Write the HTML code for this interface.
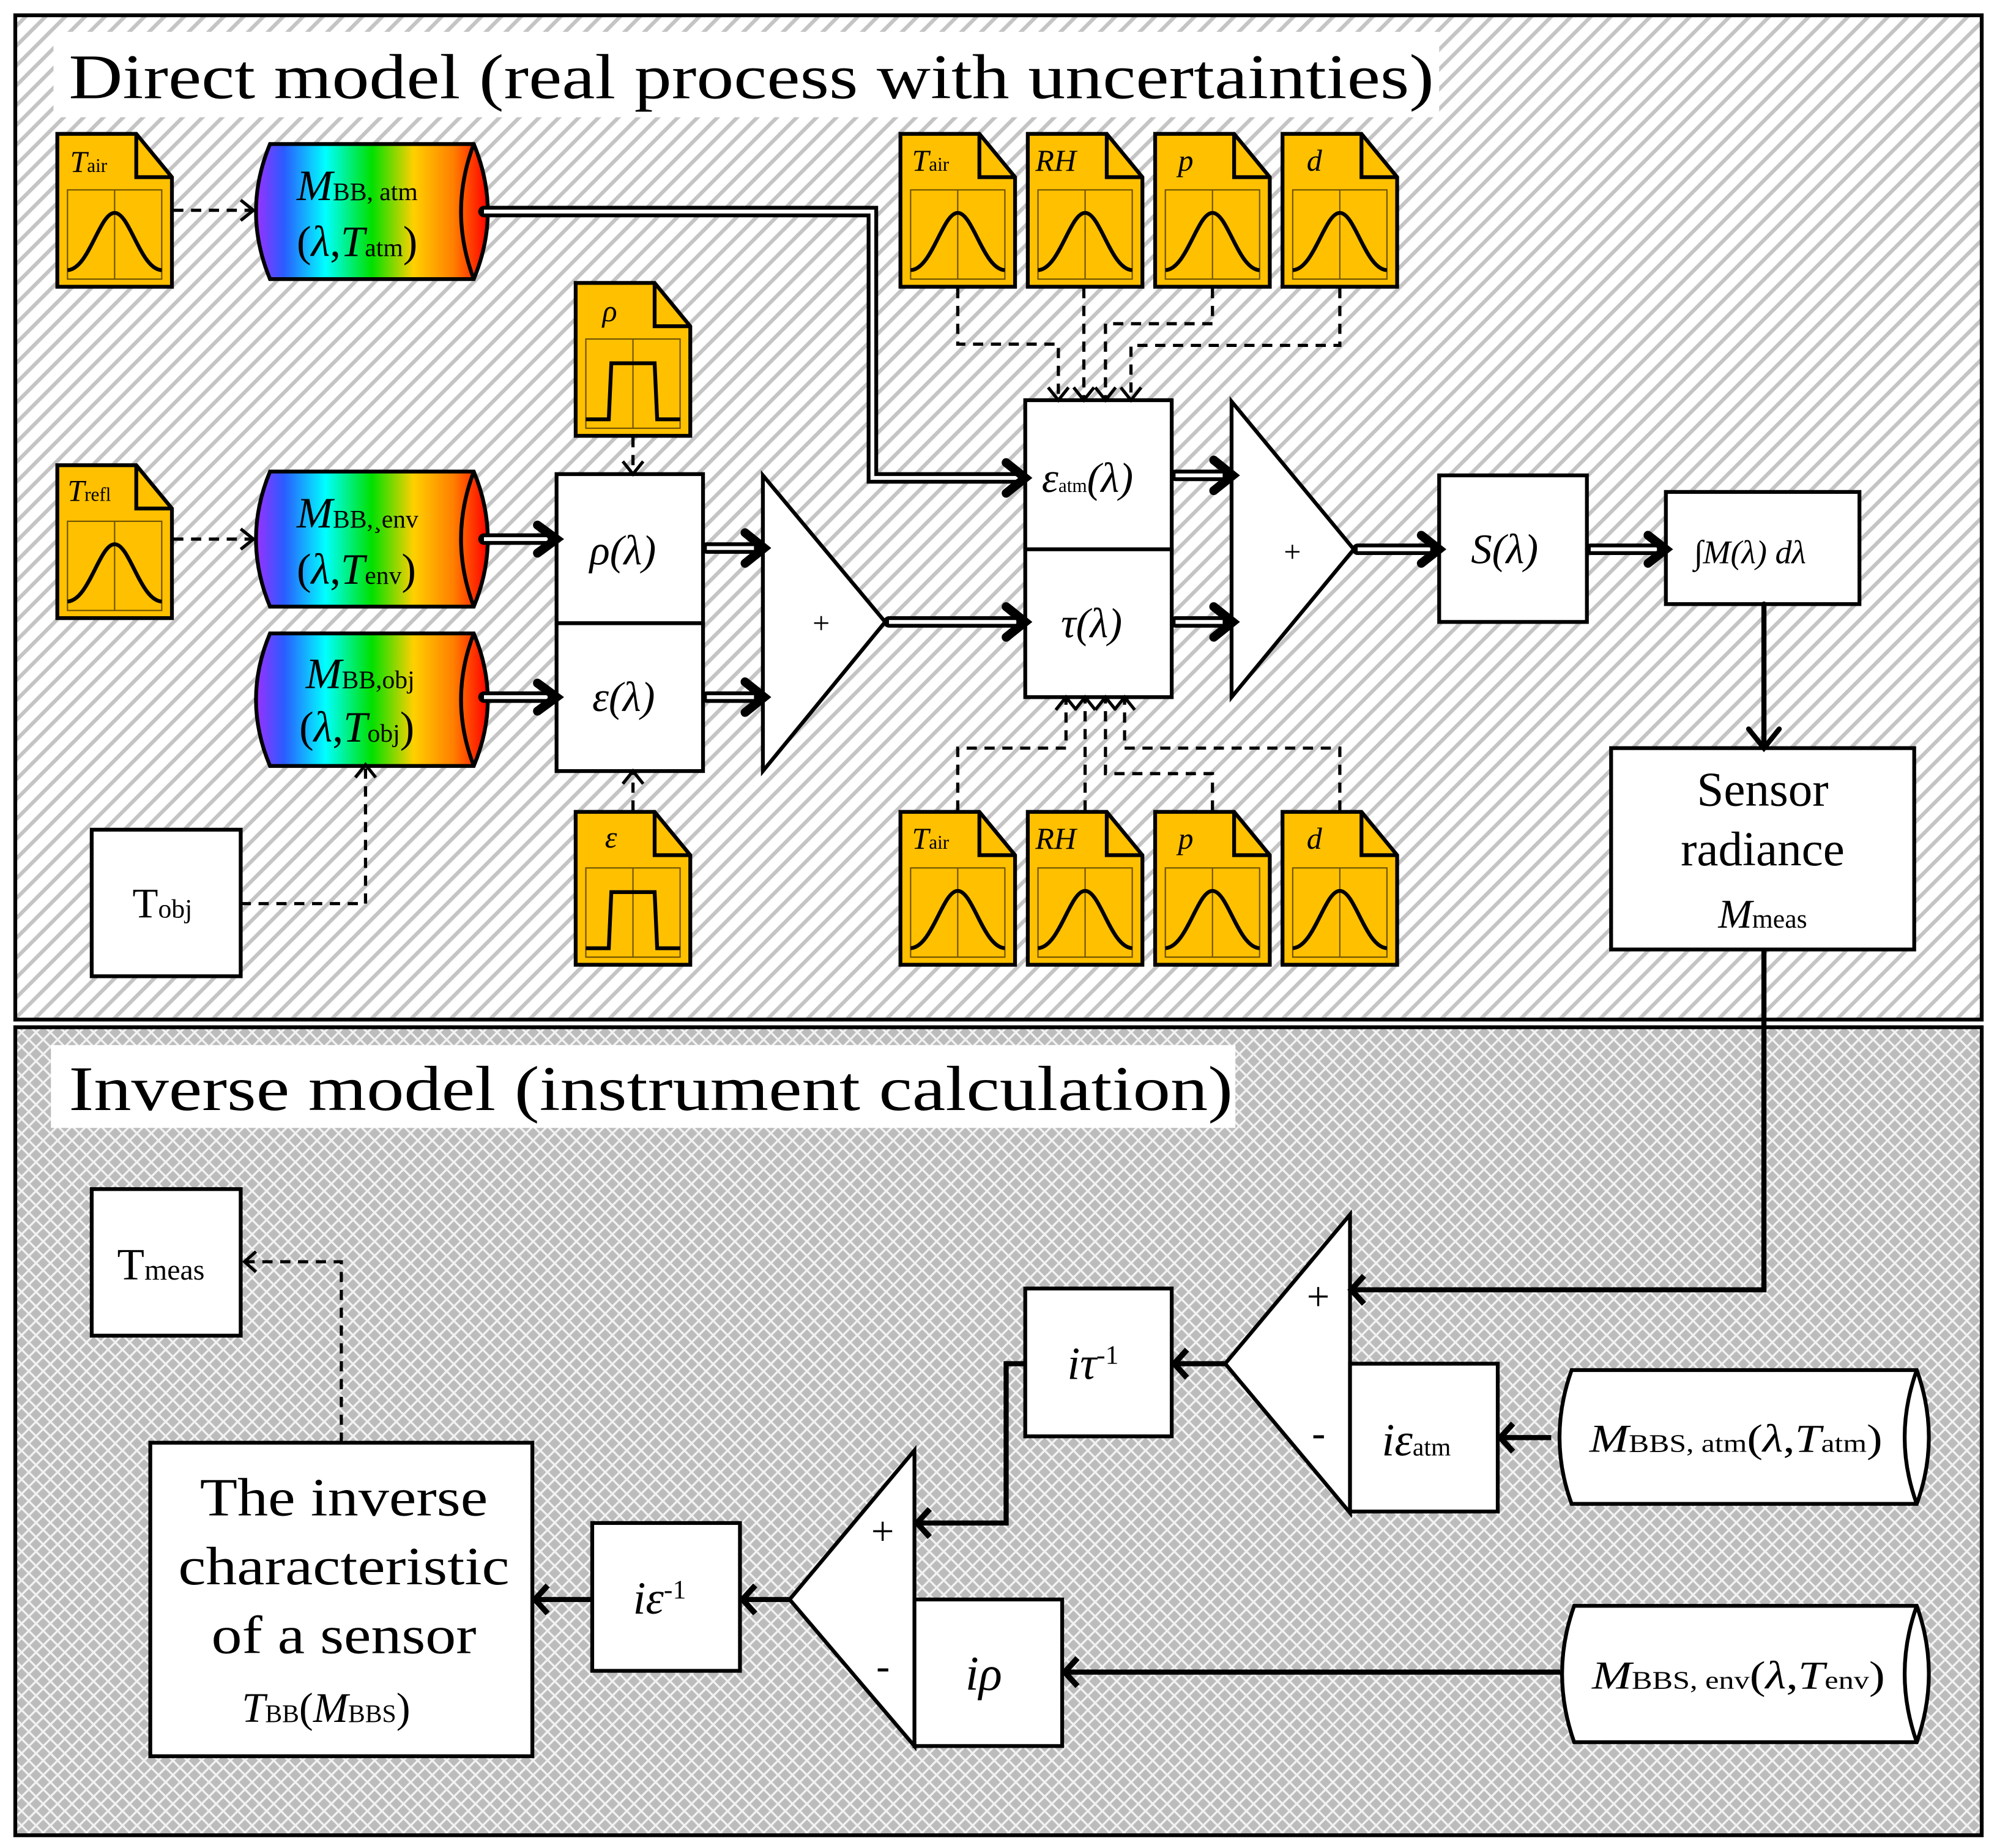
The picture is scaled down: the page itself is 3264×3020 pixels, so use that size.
<!DOCTYPE html>
<html><head><meta charset="utf-8"><style>
html,body{margin:0;padding:0;background:#fff}
svg{display:block}
text{font-family:"Liberation Serif",serif;fill:#000}
.i{font-style:italic}
</style></head><body>
<svg width="3264" height="3020" viewBox="0 0 1568 1450" preserveAspectRatio="none" xmlns="http://www.w3.org/2000/svg">
<defs>
<pattern id="stripe" width="11" height="11" patternUnits="userSpaceOnUse" patternTransform="rotate(45)">
<rect width="11" height="11" fill="#fff"/><rect x="0" y="0" width="3" height="11" fill="#c4c4c4"/>
</pattern>
<pattern id="diam" width="8" height="8" patternUnits="userSpaceOnUse" patternTransform="rotate(45)">
<rect width="8" height="8" fill="#bcbcbc"/><rect x="0" y="0" width="1.6" height="8" fill="#f2f2f2"/><rect x="0" y="0" width="8" height="1.6" fill="#f2f2f2"/>
</pattern>
<linearGradient id="rb" x1="0" x2="1" y1="0" y2="0">
<stop offset="0" stop-color="#9b30ff"/><stop offset="0.12" stop-color="#2a5bff"/><stop offset="0.3" stop-color="#00ffff"/><stop offset="0.5" stop-color="#00e000"/><stop offset="0.68" stop-color="#ffd000"/><stop offset="0.85" stop-color="#ff8000"/><stop offset="1" stop-color="#ff0000"/>
</linearGradient>
<g id="docbase">
<path d="M0,0 H62 L90,34 V120 H0 Z" fill="#ffc000" stroke="#000" stroke-width="3"/>
<path d="M62,0 V34 H90" fill="none" stroke="#000" stroke-width="3"/>
<rect x="8" y="44" width="74" height="70" fill="none" stroke="#6b5000" stroke-width="1"/>
<line x1="45" y1="44" x2="45" y2="114" stroke="#6b5000" stroke-width="1"/>
</g>
<g id="docg"><use href="#docbase"/><path d="M8,107 C25,106 33,62 45,62 C57,62 65,106 82,107" fill="none" stroke="#000" stroke-width="3"/></g>
<g id="docp"><use href="#docbase"/><path d="M8,107 H26 L28,63 H62 L64,107 H82" fill="none" stroke="#000" stroke-width="3"/></g>
</defs>

<rect x="12" y="12" width="1544" height="788" fill="url(#stripe)" stroke="#000" stroke-width="3"/>
<rect x="12" y="806" width="1544" height="634" fill="url(#diam)" stroke="#000" stroke-width="3"/>
<rect x="42" y="25" width="1088" height="67" fill="#fff"/>
<text x="54" y="77" font-size="50" textLength="1072" lengthAdjust="spacingAndGlyphs">Direct model (real process with uncertainties)</text>
<rect x="40" y="820" width="930" height="65" fill="#fff"/>
<text x="54" y="871" font-size="50" textLength="914" lengthAdjust="spacingAndGlyphs">Inverse model (instrument calculation)</text>

<use href="#docg" x="45" y="105"/><text x="55" y="135" font-size="24" class="i">T<tspan font-size="15" font-style="normal">air</tspan></text>
<use href="#docg" x="45" y="365"/><text x="53" y="393" font-size="24" class="i">T<tspan font-size="15" font-style="normal">refl</tspan></text>
<use href="#docp" x="452" y="222"/><text x="473" y="252" font-size="24" class="i">ρ</text>
<use href="#docp" x="452" y="637"/><text x="475" y="665" font-size="24" class="i">ε</text>
<g>
<use href="#docg" x="707" y="105"/><text x="716" y="134" font-size="24" class="i">T<tspan font-size="15" font-style="normal">air</tspan></text>
<use href="#docg" x="807" y="105"/><text x="813" y="134" font-size="24" class="i">RH</text>
<use href="#docg" x="907" y="105"/><text x="925" y="134" font-size="24" class="i">p</text>
<use href="#docg" x="1007" y="105"/><text x="1026" y="134" font-size="24" class="i">d</text>
<use href="#docg" x="707" y="637"/><text x="716" y="666" font-size="24" class="i">T<tspan font-size="15" font-style="normal">air</tspan></text>
<use href="#docg" x="807" y="637"/><text x="813" y="666" font-size="24" class="i">RH</text>
<use href="#docg" x="907" y="637"/><text x="925" y="666" font-size="24" class="i">p</text>
<use href="#docg" x="1007" y="637"/><text x="1026" y="666" font-size="24" class="i">d</text>
</g>

<g stroke="#000" stroke-width="3">
<path d="M212,113 H372 Q394,166 372,219 H212 Q190,166 212,113 Z" fill="url(#rb)"/>
<path d="M372,113 Q352,166 372,219" fill="none"/>
<path d="M212,370 H372 Q394,423 372,476 H212 Q190,423 212,370 Z" fill="url(#rb)"/>
<path d="M372,370 Q352,423 372,476" fill="none"/>
<path d="M212,497 H372 Q394,549 372,601 H212 Q190,549 212,497 Z" fill="url(#rb)"/>
<path d="M372,497 Q352,549 372,601" fill="none"/>
</g>
<text x="233" y="157" font-size="34" class="i">M<tspan font-size="20" font-style="normal">BB, atm</tspan></text>
<text x="233" y="201" font-size="34">(<tspan class="i">λ</tspan>,<tspan class="i">T</tspan><tspan font-size="20">atm</tspan>)</text>
<text x="233" y="414" font-size="34" class="i">M<tspan font-size="20" font-style="normal">BB,¸env</tspan></text>
<text x="233" y="458" font-size="34">(<tspan class="i">λ</tspan>,<tspan class="i">T</tspan><tspan font-size="20">env</tspan>)</text>
<text x="240" y="540" font-size="34" class="i">M<tspan font-size="20" font-style="normal">BB,obj</tspan></text>
<text x="235" y="582" font-size="34">(<tspan class="i">λ</tspan>,<tspan class="i">T</tspan><tspan font-size="20">obj</tspan>)</text>

<g fill="#fff" stroke="#000" stroke-width="3">
<rect x="72" y="651" width="117" height="115"/>
<rect x="437" y="372" width="115" height="117"/><rect x="437" y="489" width="115" height="116"/>
<rect x="805" y="314" width="115" height="117"/><rect x="805" y="431" width="115" height="116"/>
<rect x="1130" y="373" width="116" height="115"/>
<rect x="1308" y="386" width="152" height="88"/>
<rect x="1265" y="587" width="238" height="158"/>
<path d="M599,373 L695,488 L599,605 Z"/>
<path d="M967,315 L1063,431 L967,547 Z"/>
</g>
<text x="104" y="720" font-size="33">T<tspan font-size="21">obj</tspan></text>
<text x="463" y="443" font-size="33" class="i">ρ(λ)</text>
<text x="465" y="558" font-size="33" class="i">ε(λ)</text>
<text x="818" y="386" font-size="33" class="i">ε<tspan font-size="15" font-style="normal">atm</tspan>(λ)</text>
<text x="833" y="500" font-size="33" class="i">τ(λ)</text>
<text x="638" y="497" font-size="24">+</text>
<text x="1008" y="441" font-size="24">+</text>
<text x="1155" y="442" font-size="33" class="i">S(λ)</text>
<text x="1330" y="442" font-size="26" class="i">∫M(λ) dλ</text>
<text x="1384" y="632" font-size="38" text-anchor="middle">Sensor</text>
<text x="1384" y="679" font-size="38" text-anchor="middle">radiance</text>
<text x="1384" y="728" font-size="32" text-anchor="middle"><tspan class="i">M</tspan><tspan font-size="21">meas</tspan></text>

<g fill="none" stroke-linecap="round" stroke-linejoin="miter">
<g stroke="#000" stroke-width="9">
<path d="M380,166 H685 V375 H800"/>
<path d="M380,423 H432"/><path d="M380,547 H432"/>
<path d="M555,430 H594"/><path d="M555,547 H594"/>
<path d="M698,488 H800"/>
<path d="M923,373 H962"/><path d="M923,488 H962"/>
<path d="M1066,431 H1125"/><path d="M1249,431 H1303"/>
</g>
<g stroke="#fff" stroke-width="3" stroke-linecap="butt">
<path d="M380,166 H685 V375 H800"/>
<path d="M380,423 H430"/><path d="M380,547 H430"/>
<path d="M555,430 H592"/><path d="M555,547 H592"/>
<path d="M698,488 H798"/>
<path d="M923,373 H960"/><path d="M923,488 H960"/>
<path d="M1066,431 H1123"/><path d="M1249,431 H1301"/>
</g>
<g stroke="#000" stroke-width="7">
<path d="M422,412 L437,423 L422,434"/><path d="M422,536 L437,547 L422,558"/>
<path d="M585,418 L600,430 L585,442"/><path d="M585,535 L600,547 L585,559"/>
<path d="M790,363 L805,375 L790,387"/><path d="M790,476 L805,488 L790,500"/>
<path d="M953,361 L968,373 L953,385"/><path d="M953,476 L968,488 L953,500"/>
<path d="M1116,420 L1130,431 L1116,442"/><path d="M1294,420 L1308,431 L1294,442"/>
</g>
<g stroke="#000" stroke-width="4">
<path d="M1385,474 V585"/><path d="M1373,572 L1385,587 L1397,572"/>
</g>
</g>

<g fill="none" stroke="#000" stroke-width="2.5" stroke-dasharray="8,6">
<path d="M136,165 H198"/><path d="M136,423 H198"/>
<path d="M189,709 H287 V603"/>
<path d="M497,343 V370"/><path d="M497,636 V607"/>
<path d="M752,226 V270 H831 V312"/>
<path d="M851,226 V312"/>
<path d="M952,226 V254 H868 V312"/>
<path d="M1052,226 V271 H888 V312"/>
<path d="M752,636 V587 H837 V549"/>
<path d="M852,636 V549"/>
<path d="M952,636 V607 H868 V549"/>
<path d="M1052,636 V587 H883 V549"/>
</g>
<g fill="none" stroke="#000" stroke-width="2.5">
<path d="M189,157 L199,165 L189,173"/><path d="M189,415 L199,423 L189,431"/>
<path d="M279,610 L287,600 L295,610"/>
<path d="M489,362 L497,372 L505,362"/><path d="M489,615 L497,605 L505,615"/>
<path d="M823,304 L831,314 L839,304"/><path d="M843,304 L851,314 L859,304"/><path d="M860,304 L868,314 L876,304"/><path d="M880,304 L888,314 L896,304"/>
<path d="M829,557 L837,547 L845,557"/><path d="M844,557 L852,547 L860,557"/><path d="M860,557 L868,547 L876,557"/><path d="M875,557 L883,547 L891,557"/>
</g>

<g fill="#fff" stroke="#000" stroke-width="3">
<rect x="72" y="933" width="117" height="115"/>
<rect x="118" y="1132" width="300" height="246"/>
<rect x="465" y="1195" width="116" height="116"/>
<rect x="805" y="1011" width="115" height="116"/>
<path d="M1060,953 V1187 L962,1070 Z"/>
<rect x="1060" y="1070" width="116" height="116"/>
<path d="M718,1138 V1370 L620,1255 Z"/>
<rect x="718" y="1255" width="116" height="115"/>
<path d="M1234,1075 H1505 Q1524,1128 1505,1180 H1234 Q1215,1128 1234,1075 Z"/>
<path d="M1505,1075 Q1486,1128 1505,1180" fill="none"/>
<path d="M1236,1260 H1505 Q1524,1313 1505,1367 H1236 Q1217,1313 1236,1260 Z"/>
<path d="M1505,1260 Q1486,1313 1505,1367" fill="none"/>
</g>
<text x="92" y="1004" font-size="35">T<tspan font-size="23">meas</tspan></text>
<text x="270" y="1189" font-size="42" text-anchor="middle" textLength="226" lengthAdjust="spacingAndGlyphs">The inverse</text>
<text x="270" y="1243" font-size="42" text-anchor="middle" textLength="260" lengthAdjust="spacingAndGlyphs">characteristic</text>
<text x="270" y="1297" font-size="42" text-anchor="middle" textLength="208" lengthAdjust="spacingAndGlyphs">of a sensor</text>
<text x="256" y="1351" font-size="33" text-anchor="middle"><tspan class="i">T</tspan><tspan font-size="20">BB</tspan>(<tspan class="i">M</tspan><tspan font-size="20">BBS</tspan>)</text>
<text x="497" y="1266" font-size="36" class="i">iε<tspan font-size="21" font-style="normal" dy="-12">-1</tspan></text>
<text x="838" y="1082" font-size="36" class="i">iτ<tspan font-size="21" font-style="normal" dy="-12">-1</tspan></text>
<text x="1085" y="1142" font-size="36" class="i">iε<tspan font-size="20" font-style="normal">atm</tspan></text>
<text x="758" y="1326" font-size="38" class="i">iρ</text>
<text x="1026" y="1028" font-size="32">+</text>
<text x="1030" y="1135" font-size="32">-</text>
<text x="684" y="1212" font-size="32">+</text>
<text x="688" y="1318" font-size="32">-</text>
<text x="1248" y="1139" font-size="31" textLength="230" lengthAdjust="spacingAndGlyphs"><tspan class="i">M</tspan><tspan font-size="20">BBS, atm</tspan>(<tspan class="i">λ</tspan>,<tspan class="i">T</tspan><tspan font-size="20">atm</tspan>)</text>
<text x="1250" y="1325" font-size="31" textLength="230" lengthAdjust="spacingAndGlyphs"><tspan class="i">M</tspan><tspan font-size="20">BBS, env</tspan>(<tspan class="i">λ</tspan>,<tspan class="i">T</tspan><tspan font-size="20">env</tspan>)</text>

<g fill="none" stroke="#000" stroke-width="4">
<path d="M1385,745 V1012 H1062"/>
<path d="M1218,1128 H1178"/>
<path d="M962,1070 H922"/>
<path d="M805,1070 H790 V1195 H720"/>
<path d="M1225,1312 H836"/>
<path d="M620,1255 H583"/>
<path d="M465,1255 H420"/>
</g>
<g fill="none" stroke="#000" stroke-width="4.5">
<path d="M1071,1001 L1061,1012 L1071,1023"/>
<path d="M1188,1117 L1178,1128 L1188,1139"/>
<path d="M932,1059 L922,1070 L932,1081"/>
<path d="M730,1184 L720,1195 L730,1206"/>
<path d="M846,1301 L836,1312 L846,1323"/>
<path d="M593,1244 L583,1255 L593,1266"/>
<path d="M430,1244 L420,1255 L430,1266"/>
</g>
<path d="M268,1132 V990 H193" fill="none" stroke="#000" stroke-width="2.5" stroke-dasharray="8,6"/>
<path d="M201,982 L192,990 L201,998" fill="none" stroke="#000" stroke-width="2.5"/>
</svg>
</body></html>
